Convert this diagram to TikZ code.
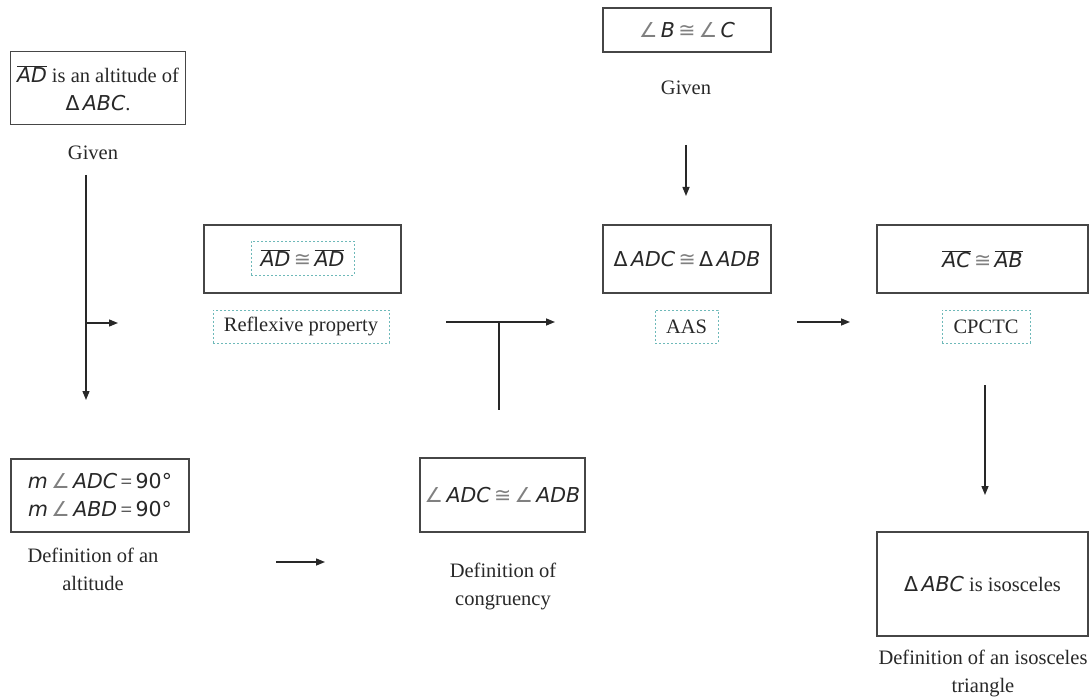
\documentclass[tikz,border=0pt]{standalone}
\usepackage{fontspec}
\setmainfont{Liberation Serif}
\newfontfamily\gsans{DejaVu Sans}
\usetikzlibrary{arrows.meta}
\definecolor{ink}{RGB}{40,40,40}
\definecolor{boxline}{RGB}{70,70,70}
\definecolor{dotc}{RGB}{110,185,185}
\newcommand\mi[1]{{\gsans\itshape #1}}
\newcommand\seg[1]{$\overline{\hbox{\mi{#1}}}$}
\newcommand\cng{{\gsans\color{gray}≅}}
\newcommand\ang{{\gsans\color{gray}∠}}
\newcommand\tri{{\gsans Δ}}
\tikzset{
  every node/.style={text=ink, font=\fontsize{20.5}{28}\selectfont, inner sep=0pt},
  pbox/.style={draw=boxline, line width=1.5pt, rectangle, align=center},
  dbox/.style={draw=dotc, line width=0.9pt, dash pattern=on 2pt off 2pt, rectangle},
  lbl/.style={align=center},
  conn/.style={draw=ink, line width=1.4pt},
  arr/.style={conn, -{Triangle[length=9pt,width=7pt]}}
}
\begin{document}
\begin{tikzpicture}[x=1pt,y=-1pt]
\useasboundingbox[fill=white] (0,0) rectangle (1089,700);
% boxes
\node[pbox, minimum width=175, minimum height=73] (alt) at (98,88)
  {\seg{AD} is an altitude of\\ \tri\,\mi{ABC}.};
\node[lbl] (given1) at (93,153) {Given};
\node[pbox, minimum width=197, minimum height=68] (refl) at (302.5,259) {};
\node[dbox, minimum width=103, minimum height=34] (reflin) at (302.5,258) {\seg{AD}\,\cng\,\seg{AD}};
\node[dbox, minimum width=176, minimum height=33] (refllbl) at (301,326.5) {Reflexive property};
\node[pbox, minimum width=168, minimum height=44] (bc) at (687,30) {\ang\,\mi{B}\,\cng\,\ang\,\mi{C}};
\node[lbl] (given2) at (686,88) {Given};
\node[pbox, minimum width=168, minimum height=68] (cong) at (687,259) {\tri\,\mi{ADC}\,\cng\,\tri\,\mi{ADB}};
\node[dbox, minimum width=63, minimum height=33] (aas) at (686.5,326.5) {AAS};
\node[pbox, minimum width=211, minimum height=68] (acab) at (982.5,259) {\seg{AC}\,\cng\,\seg{AB}};
\node[dbox, minimum width=88, minimum height=33] (cpctc) at (986,326.5) {CPCTC};
\node[pbox, minimum width=211, minimum height=104] (iso) at (982.5,584) {\tri\,\mi{ABC} is isosceles};
\node[lbl] (isolbl) at (983,673.5) {Definition of an isosceles\\ triangle};
\node[pbox, minimum width=178, minimum height=73] (right) at (100,495.5)
  {\mi{m}\,\ang\,\mi{ADC}\,=\,{\gsans 90°}\\ \mi{m}\,\ang\,\mi{ABD}\,=\,{\gsans 90°}};
\node[lbl] (rightlbl) at (93,569.5) {Definition of an\\ altitude};
\node[pbox, minimum width=165, minimum height=74] (angc) at (502.5,495) {\ang\,\mi{ADC}\,\cng\,\ang\,\mi{ADB}};
\node[lbl] (angclbl) at (503,586) {Definition of\\ congruency};
% connector coordinates
\coordinate (v1s) at (86,175);
\coordinate (v1e) at (86,400);
\coordinate (v1b) at (86,323);
\coordinate (v1be) at (118,323);
\coordinate (h2s) at (446,322);
\coordinate (h2e) at (555,322);
\coordinate (h2j) at (499,322);
\coordinate (h2b) at (499,410);
\coordinate (v3s) at (686,145);
\coordinate (v3e) at (686,196);
\coordinate (h4s) at (797,322);
\coordinate (h4e) at (850,322);
\coordinate (v5s) at (985,385);
\coordinate (v5e) at (985,495);
\coordinate (h6s) at (276,562);
\coordinate (h6e) at (325,562);
% connectors
\draw[arr] (v1s) -- (v1e);
\draw[arr] (v1b) -- (v1be);
\draw[arr] (h2s) -- (h2e);
\draw[conn] (h2j) -- (h2b);
\draw[arr] (v3s) -- (v3e);
\draw[arr] (h4s) -- (h4e);
\draw[arr] (v5s) -- (v5e);
\draw[arr] (h6s) -- (h6e);
\end{tikzpicture}
\end{document}
